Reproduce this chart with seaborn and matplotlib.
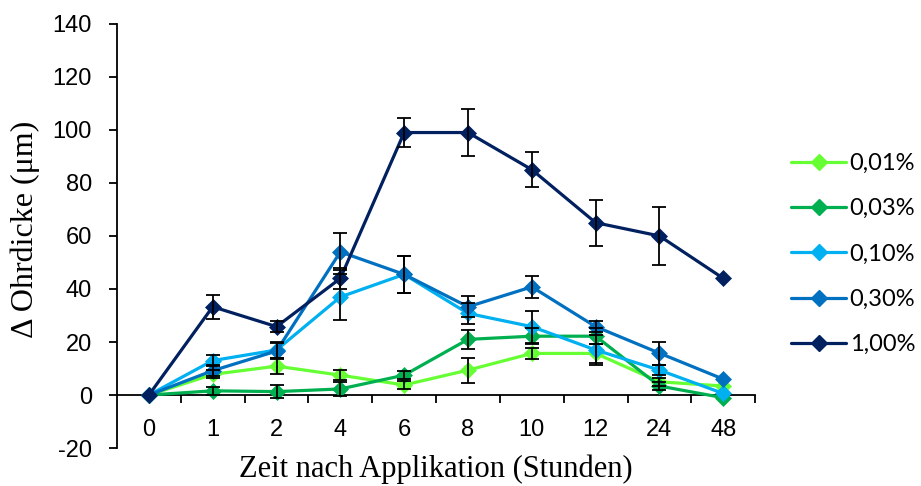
import numpy as np
import pandas as pd
import matplotlib
matplotlib.use("Agg")
import matplotlib.pyplot as plt
import seaborn as sns
from matplotlib.lines import Line2D

categories = ["0", "1", "2", "4", "6", "8", "10", "12", "24", "48"]
series_names = ["0,01%", "0,03%", "0,10%", "0,30%", "1,00%"]
colors = ["#66FF33", "#00B050", "#00B0F0", "#0070C0", "#002060"]

v001 = [0, 7.8, 10.9, 7.5, 3.8, 9.4, 15.7, 15.7, 5.0, 3.4]
v003 = [0, 1.6, 1.3, 2.3, 7.5, 21.0, 22.2, 22.2, 3.4, -1.0]
v010 = [0, 13.0, 17.0, 37.0, 45.5, 30.8, 25.8, 17.0, 9.4, 0.6]
v030 = [0, 9.2, 16.6, 54.0, 45.5, 33.3, 40.8, 25.8, 15.8, 6.0]
v100 = [0, 33.3, 25.8, 44.0, 99.0, 99.0, 85.0, 65.0, 60.0, 44.0]

e001 = [0, 1.5, 3.0, 2.0, 1.5, 4.7, 2.0, 3.5, 1.5, 0]
e003 = [0, 1.5, 2.5, 2.5, 1.5, 3.6, 3.0, 3.0, 1.5, 0]
e010 = [0, 2.0, 3.0, 8.6, 7.0, 4.0, 6.0, 5.5, 2.0, 0]
e030 = [0, 2.0, 3.0, 7.0, 7.0, 4.0, 4.2, 2.0, 4.3, 0]
e100 = [0, 4.5, 2.0, 4.0, 5.5, 9.0, 6.5, 8.7, 11.0, 0]

values = [v001, v003, v010, v030, v100]
errors = [e001, e003, e010, e030, e100]

rows = []
for name, vals, errs in zip(series_names, values, errors):
    for i, (c, v, e) in enumerate(zip(categories, vals, errs)):
        rows.append({"pos": i, "Zeit": c, "value": v, "err": e, "series": name})
df = pd.DataFrame(rows)

sns.set_theme(style="white")
plt.rcParams["font.family"] = ["Liberation Sans", "DejaVu Sans"]
plt.rcParams["axes.unicode_minus"] = False
plt.rcParams["text.color"] = "black"
plt.rcParams["axes.labelcolor"] = "black"
plt.rcParams["xtick.color"] = "black"
plt.rcParams["ytick.color"] = "black"

fig = plt.figure(figsize=(9.21, 4.86), dpi=100)
ax = fig.add_axes([0.127, 0.078, 0.693, 0.873])

for name, col in zip(series_names, colors):
    sub = df[df["series"] == name]
    sns.lineplot(data=sub, x="pos", y="value", color=col, ax=ax,
                 linewidth=2.3, marker="D", markersize=8.5,
                 markeredgecolor=col, markeredgewidth=0.5, zorder=3,
                 legend=False)
    se = sub[sub["err"] > 0]
    ax.errorbar(se["pos"], se["value"], yerr=se["err"], fmt="none",
                ecolor="black", elinewidth=1.3, capsize=5, capthick=1.3,
                zorder=4)

ax.set_xlim(-0.5, 9.5)
ax.set_ylim(-20, 140)
ax.set_yticks(np.arange(-20, 141, 20))
ax.set_xticks(range(len(categories)))
ax.set_xticklabels(categories)
ax.set_xticks(np.arange(0.5, 9.6, 1.0), minor=True)

for s in ["top", "right"]:
    ax.spines[s].set_visible(False)
ax.spines["bottom"].set_position(("data", 0))
ax.spines["left"].set_color("black")
ax.spines["bottom"].set_color("black")
ax.spines["left"].set_linewidth(1.3)
ax.spines["bottom"].set_linewidth(1.3)

ax.tick_params(axis="y", which="major", direction="out", length=6, width=1.3,
               color="black", labelsize=17, pad=12, left=True)
ax.tick_params(axis="x", which="major", length=0, labelsize=17, pad=17)
ax.tick_params(axis="x", which="minor", direction="out", length=6, width=1.3,
               color="black", bottom=True)

ax.set_xlabel("Zeit nach Applikation (Stunden)", fontsize=22,
              family=["Liberation Serif", "DejaVu Serif"])
ax.set_ylabel("\u0394 Ohrdicke (\u03bcm)", fontsize=23,
              family=["Liberation Serif", "DejaVu Serif"])
ax.xaxis.set_label_coords(0.5, -0.014)
ax.yaxis.set_label_coords(-0.121, 0.515)
ax.grid(False)

handles = [Line2D([0], [0], color=c, lw=2.3, marker="D", markersize=8.5,
                  markeredgecolor=c) for c in colors]
fig.legend(handles, series_names, loc="upper left",
           bbox_to_anchor=(0.849, 0.705), frameon=False,
           prop={"family": ["Lato", "DejaVu Sans"], "size": 17},
           handlelength=2.3, labelspacing=1.03, handletextpad=0.17,
           borderaxespad=0)

fig.savefig("out.png", dpi=100)
